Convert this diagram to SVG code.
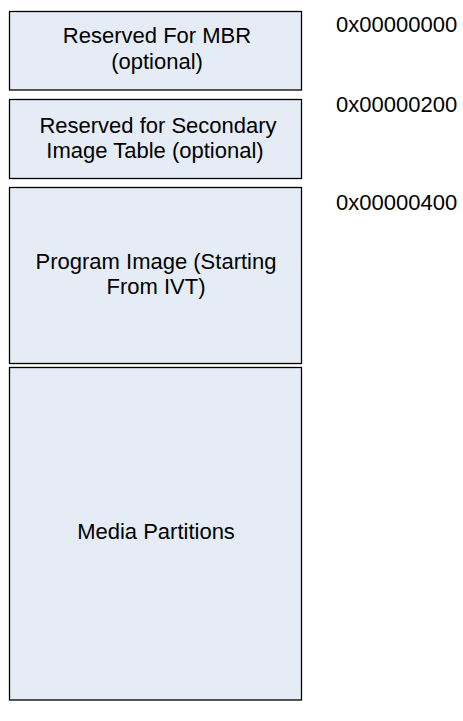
<svg xmlns="http://www.w3.org/2000/svg" width="463" height="721" viewBox="0 0 463 721">
<style>
.box{fill:#E5ECF6;stroke:#000;stroke-width:1.3}
text{font-family:"Liberation Sans",Arial,sans-serif;font-size:22px;fill:#000}
.c{text-anchor:middle}
</style>
<rect width="463" height="721" fill="#fff"/>
<g id="mbr">
<rect class="box" x="9.5" y="11.5" width="292" height="78.5"/>
<text class="c" x="157" y="43">Reserved For MBR</text>
<text class="c" x="157" y="69">(optional)</text>
</g>
<g id="secondary">
<rect class="box" x="9.5" y="99.5" width="292" height="79"/>
<text class="c" x="158" y="133">Reserved for Secondary</text>
<text class="c" x="155" y="158">Image Table (optional)</text>
</g>
<g id="program">
<rect class="box" x="9.5" y="187.5" width="292" height="176"/>
<text class="c" x="156" y="269">Program Image (Starting</text>
<text class="c" x="156" y="294">From IVT)</text>
</g>
<g id="media">
<rect class="box" x="9.5" y="367.5" width="292" height="332.5"/>
<text class="c" x="156" y="539">Media Partitions</text>
</g>
<g id="addresses">
<text x="336" y="32">0x00000000</text>
<text x="336" y="112">0x00000200</text>
<text x="336" y="210">0x00000400</text>
</g>
<g id="connectors"/>
</svg>
